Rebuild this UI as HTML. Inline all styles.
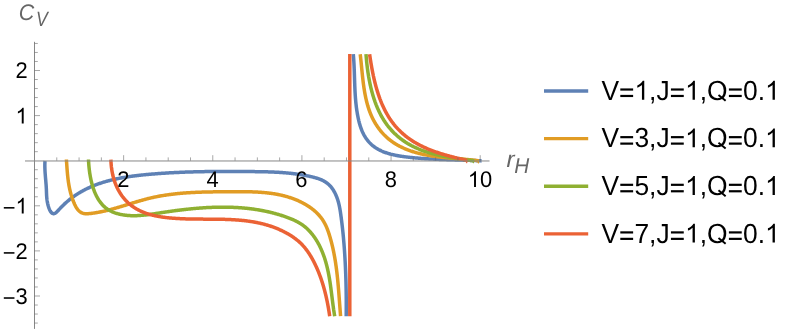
<!DOCTYPE html><html><head><meta charset="utf-8"><style>html,body{margin:0;padding:0;background:#fff}svg{display:block;will-change:transform}text{font-family:"Liberation Sans",sans-serif;font-kerning:none;text-rendering:geometricPrecision}</style></head><body>
<svg width="793" height="331" viewBox="0 0 793 331">
<g fill="none" stroke-width="3.50" stroke-linejoin="round" stroke-linecap="butt">
<path stroke="#5e81b5" d="M45.00 161.00 44.95 161.66 44.92 162.32 44.89 163.00 44.87 163.67 44.85 164.35 44.85 165.04 44.84 165.73 44.85 166.42 44.86 167.12 44.88 167.82 44.90 168.53 44.93 169.24 44.96 169.95 44.99 170.66 45.03 171.37 45.08 172.09 45.12 172.81 45.17 173.53 45.22 174.24 45.28 174.96 45.34 175.68 45.39 176.41 45.45 177.13 45.51 177.84 45.58 178.56 45.64 179.28 45.70 179.99 45.76 180.71 45.82 181.42 45.88 182.13 45.94 182.84 46.00 183.54 46.05 184.24 46.10 184.93 46.16 185.63 46.20 186.31 46.25 187.00 46.29 187.68 46.32 188.35 46.36 189.02 46.39 189.68 46.41 190.34 46.43 190.99 46.45 191.65 46.48 192.30 46.50 192.94 46.52 193.60 46.55 194.25 46.58 194.90 46.61 195.56 46.65 196.22 46.70 196.89 46.75 197.57 46.82 198.26 46.90 198.95 46.98 199.65 47.08 200.37 47.19 201.10 47.32 201.84 47.47 202.60 47.62 203.37 47.80 204.16 48.00 204.96 48.21 205.77 48.45 206.58 48.70 207.39 48.97 208.17 49.26 208.94 49.57 209.67 49.90 210.37 50.25 211.02 50.62 211.62 51.01 212.15 51.42 212.62 51.85 213.01 52.30 213.32 52.77 213.54 53.25 213.66 53.73 213.68 54.22 213.60 54.70 213.44 55.19 213.19 55.68 212.87 56.17 212.49 56.66 212.06 57.15 211.58 57.65 211.07 58.15 210.53 58.64 209.98 59.15 209.42 59.65 208.87 60.16 208.32 60.67 207.78 61.19 207.24 61.70 206.71 62.22 206.18 62.74 205.66 63.27 205.15 63.80 204.64 64.33 204.14 64.86 203.65 65.39 203.16 65.93 202.67 66.47 202.19 67.02 201.72 67.56 201.25 68.11 200.79 68.66 200.33 69.21 199.88 69.77 199.44 70.33 199.00 70.89 198.56 71.45 198.13 72.02 197.71 72.58 197.29 73.15 196.88 73.73 196.47 74.30 196.06 74.88 195.67 75.46 195.27 76.04 194.88 76.62 194.50 77.21 194.12 77.80 193.75 78.39 193.38 78.98 193.02 79.57 192.66 80.17 192.30 80.77 191.95 81.37 191.61 81.97 191.27 82.58 190.93 83.18 190.60 83.79 190.28 84.40 189.95 85.02 189.64 85.63 189.32 86.25 189.01 86.87 188.71 87.49 188.41 88.11 188.11 88.73 187.82 89.36 187.54 89.98 187.25 90.61 186.97 91.24 186.70 91.88 186.43 92.51 186.16 93.15 185.90 93.78 185.64 94.42 185.38 95.06 185.13 95.71 184.89 96.35 184.64 97.00 184.40 97.64 184.17 98.29 183.93 98.94 183.71 99.59 183.48 100.24 183.26 100.90 183.04 101.55 182.83 102.21 182.62 102.87 182.41 103.53 182.20 104.19 182.00 104.85 181.81 105.52 181.61 106.18 181.42 106.85 181.23 107.51 181.05 108.18 180.87 108.85 180.69 109.52 180.51 110.19 180.34 110.87 180.17 111.54 180.01 112.22 179.84 112.89 179.68 113.57 179.52 114.25 179.37 114.93 179.22 115.61 179.07 116.29 178.92 116.97 178.77 117.65 178.63 118.33 178.49 119.02 178.36 119.70 178.22 120.39 178.09 121.08 177.96 121.76 177.84 122.45 177.71 123.14 177.59 123.83 177.47 124.52 177.35 125.21 177.24 125.90 177.12 126.60 177.01 127.29 176.90 127.98 176.80 128.68 176.69 129.37 176.59 130.07 176.49 130.76 176.39 131.46 176.29 132.16 176.19 132.85 176.10 133.55 176.01 134.25 175.92 134.95 175.83 135.65 175.74 136.34 175.66 137.04 175.57 137.74 175.49 138.44 175.41 139.14 175.33 139.84 175.25 140.54 175.18 141.25 175.10 141.95 175.03 142.65 174.95 143.35 174.88 144.05 174.81 144.75 174.74 145.45 174.67 146.15 174.61 146.86 174.54 147.56 174.48 148.26 174.41 148.96 174.35 149.66 174.29 150.36 174.23 151.06 174.17 151.76 174.11 152.47 174.05 153.17 173.99 153.87 173.93 154.57 173.88 155.27 173.82 155.97 173.77 156.67 173.71 157.37 173.66 158.07 173.61 158.77 173.56 159.47 173.51 160.17 173.46 160.87 173.41 161.57 173.36 162.27 173.31 162.97 173.26 163.67 173.22 164.37 173.17 165.07 173.13 165.77 173.08 166.47 173.04 167.17 173.00 167.87 172.95 168.57 172.91 169.27 172.87 169.97 172.83 170.66 172.79 171.36 172.76 172.06 172.72 172.76 172.68 173.46 172.64 174.16 172.61 174.86 172.57 175.56 172.54 176.26 172.51 176.95 172.47 177.65 172.44 178.35 172.41 179.05 172.38 179.75 172.35 180.45 172.32 181.14 172.29 181.84 172.26 182.54 172.23 183.24 172.20 183.94 172.18 184.64 172.15 185.33 172.12 186.03 172.10 186.73 172.07 187.43 172.05 188.13 172.03 188.82 172.00 189.52 171.98 190.22 171.96 190.92 171.94 191.61 171.92 192.31 171.90 193.01 171.88 193.71 171.86 194.41 171.84 195.10 171.82 195.80 171.81 196.50 171.79 197.20 171.77 197.89 171.76 198.59 171.74 199.29 171.73 199.99 171.71 200.68 171.70 201.38 171.68 202.08 171.67 202.78 171.66 203.47 171.64 204.17 171.63 204.87 171.62 205.57 171.61 206.26 171.60 206.96 171.59 207.66 171.58 208.36 171.57 209.05 171.56 209.75 171.55 210.45 171.54 211.15 171.54 211.84 171.53 212.54 171.52 213.24 171.52 213.94 171.51 214.63 171.50 215.33 171.50 216.03 171.49 216.73 171.49 217.42 171.48 218.12 171.48 218.82 171.48 219.52 171.47 220.21 171.47 220.91 171.47 221.61 171.47 222.31 171.46 223.01 171.46 223.70 171.46 224.40 171.46 225.10 171.46 225.80 171.46 226.49 171.46 227.19 171.46 227.89 171.46 228.59 171.46 229.29 171.46 229.98 171.46 230.68 171.46 231.38 171.46 232.08 171.46 232.78 171.47 233.47 171.47 234.17 171.47 234.87 171.47 235.57 171.48 236.27 171.48 236.97 171.48 237.66 171.49 238.36 171.49 239.06 171.49 239.76 171.50 240.46 171.50 241.16 171.51 241.86 171.51 242.55 171.52 243.25 171.52 243.95 171.53 244.65 171.53 245.35 171.54 246.05 171.54 246.75 171.55 247.45 171.56 248.15 171.56 248.85 171.57 249.54 171.57 250.24 171.58 250.94 171.59 251.64 171.59 252.34 171.60 253.04 171.61 253.74 171.61 254.44 171.62 255.14 171.63 255.84 171.64 256.54 171.65 257.24 171.66 257.94 171.66 258.64 171.67 259.34 171.69 260.04 171.70 260.74 171.71 261.44 171.72 262.14 171.73 262.84 171.75 263.54 171.76 264.24 171.78 264.94 171.80 265.64 171.81 266.34 171.83 267.04 171.85 267.74 171.87 268.44 171.89 269.14 171.91 269.84 171.94 270.54 171.96 271.24 171.99 271.94 172.02 272.63 172.04 273.33 172.07 274.03 172.10 274.73 172.14 275.43 172.17 276.13 172.21 276.83 172.24 277.53 172.28 278.23 172.32 278.92 172.36 279.62 172.40 280.32 172.45 281.02 172.49 281.72 172.54 282.41 172.59 283.11 172.64 283.81 172.70 284.51 172.75 285.20 172.81 285.90 172.87 286.60 172.93 287.29 172.99 287.99 173.06 288.69 173.12 289.38 173.19 290.08 173.27 290.78 173.34 291.47 173.42 292.17 173.49 292.86 173.57 293.56 173.66 294.25 173.74 294.95 173.83 295.64 173.92 296.34 174.01 297.03 174.11 297.72 174.21 298.42 174.31 299.11 174.41 299.80 174.52 300.50 174.62 301.19 174.73 301.88 174.85 302.57 174.97 303.26 175.09 303.96 175.21 304.65 175.33 305.34 175.46 306.03 175.59 306.72 175.73 307.41 175.87 308.10 176.01 308.79 176.15 309.48 176.30 310.17 176.45 310.86 176.60 311.54 176.76 312.23 176.92 312.92 177.09 313.60 177.26 314.28 177.44 314.96 177.62 315.63 177.81 316.30 178.01 316.97 178.22 317.64 178.43 318.30 178.65 318.95 178.89 319.60 179.13 320.24 179.38 320.88 179.64 321.51 179.92 322.13 180.20 322.75 180.50 323.36 180.81 323.96 181.13 324.55 181.47 325.14 181.82 325.71 182.18 326.28 182.56 326.84 182.96 327.38 183.37 327.92 183.80 328.44 184.24 328.95 184.71 329.45 185.19 329.94 185.69 330.42 186.20 330.88 186.74 331.34 187.29 331.78 187.86 332.20 188.44 332.62 189.03 333.02 189.64 333.41 190.25 333.79 190.88 334.15 191.51 334.50 192.15 334.84 192.80 335.17 193.45 335.49 194.11 335.79 194.77 336.08 195.43 336.36 196.09 336.63 196.75 336.88 197.41 337.13 198.08 337.36 198.75 337.59 199.41 337.80 200.08 338.01 200.75 338.20 201.43 338.39 202.10 338.57 202.77 338.74 203.45 338.91 204.12 339.07 204.80 339.22 205.48 339.36 206.16 339.50 206.83 339.63 207.51 339.76 208.20 339.88 208.88 340.00 209.56 340.12 210.24 340.23 210.93 340.33 211.61 340.44 212.30 340.54 212.98 340.64 213.67 340.74 214.35 340.83 215.04 340.93 215.73 341.02 216.42 341.12 217.10 341.21 217.79 341.30 218.48 341.39 219.17 341.48 219.86 341.57 220.55 341.66 221.24 341.74 221.93 341.83 222.63 341.91 223.32 341.99 224.01 342.08 224.70 342.16 225.39 342.24 226.09 342.32 226.78 342.39 227.47 342.47 228.17 342.55 228.86 342.62 229.56 342.70 230.25 342.77 230.95 342.84 231.64 342.92 232.34 342.99 233.03 343.06 233.73 343.13 234.42 343.19 235.12 343.26 235.82 343.33 236.51 343.39 237.21 343.46 237.91 343.52 238.61 343.58 239.30 343.64 240.00 343.70 240.70 343.76 241.40 343.82 242.10 343.88 242.80 343.94 243.49 344.00 244.19 344.05 244.89 344.11 245.59 344.16 246.29 344.21 246.99 344.27 247.69 344.32 248.39 344.37 249.09 344.42 249.79 344.47 250.49 344.52 251.19 344.57 251.89 344.61 252.59 344.66 253.29 344.70 253.99 344.75 254.69 344.79 255.39 344.84 256.09 344.88 256.79 344.92 257.49 344.96 258.19 345.00 258.89 345.04 259.59 345.08 260.29 345.12 260.99 345.16 261.69 345.19 262.39 345.23 263.09 345.26 263.79 345.30 264.49 345.33 265.19 345.37 265.89 345.40 266.59 345.43 267.29 345.46 267.99 345.49 268.69 345.52 269.39 345.55 270.08 345.58 270.78 345.61 271.48 345.64 272.18 345.66 272.88 345.69 273.58 345.71 274.28 345.74 274.97 345.76 275.67 345.79 276.37 345.81 277.07 345.83 277.77 345.86 278.46 345.88 279.16 345.90 279.86 345.92 280.55 345.94 281.25 345.96 281.95 345.98 282.64 345.99 283.34 346.01 284.04 346.03 284.73 346.04 285.43 346.06 286.13 346.07 286.82 346.09 287.52 346.10 288.22 346.12 288.91 346.13 289.61 346.14 290.31 346.15 291.00 346.16 291.70 346.17 292.40 346.18 293.09 346.19 293.79 346.20 294.49 346.21 295.19 346.22 295.88 346.22 296.58 346.23 297.28 346.24 297.98 346.24 298.67 346.25 299.37 346.25 300.07 346.25 300.77 346.26 301.47 346.26 302.17 346.26 302.86 346.26 303.56 346.26 304.26 346.26 304.96 346.26 305.66 346.26 306.36 346.26 307.06 346.26 307.76 346.26 308.47 346.26 309.17 346.25 309.87 346.25 310.57 346.24 311.27 346.24 311.98 346.23 312.68 346.23 313.38 346.22 314.09 346.22 314.79 346.21 315.49 346.20 316.20"/>
<path stroke="#5e81b5" d="M353.30 54.20 353.36 54.89 353.42 55.58 353.48 56.28 353.53 56.97 353.59 57.66 353.64 58.35 353.69 59.05 353.73 59.74 353.78 60.43 353.82 61.13 353.86 61.82 353.90 62.51 353.94 63.21 353.98 63.90 354.01 64.60 354.05 65.29 354.08 65.99 354.11 66.68 354.14 67.38 354.17 68.07 354.20 68.77 354.23 69.46 354.25 70.16 354.28 70.85 354.30 71.55 354.33 72.25 354.35 72.94 354.37 73.64 354.39 74.34 354.42 75.03 354.44 75.73 354.46 76.43 354.48 77.12 354.50 77.82 354.53 78.52 354.55 79.22 354.57 79.91 354.59 80.61 354.62 81.31 354.64 82.01 354.66 82.71 354.69 83.40 354.71 84.10 354.74 84.80 354.76 85.50 354.79 86.20 354.82 86.89 354.85 87.59 354.88 88.29 354.91 88.99 354.94 89.69 354.97 90.39 355.01 91.09 355.05 91.78 355.08 92.48 355.12 93.18 355.17 93.88 355.21 94.58 355.25 95.28 355.30 95.98 355.35 96.68 355.40 97.38 355.45 98.07 355.51 98.77 355.57 99.47 355.63 100.17 355.69 100.87 355.75 101.57 355.82 102.27 355.89 102.97 355.96 103.66 356.04 104.36 356.12 105.06 356.20 105.76 356.28 106.46 356.37 107.16 356.46 107.86 356.55 108.55 356.65 109.25 356.75 109.95 356.85 110.65 356.96 111.35 357.07 112.05 357.19 112.74 357.31 113.44 357.43 114.14 357.56 114.84 357.69 115.53 357.82 116.23 357.96 116.93 358.10 117.63 358.25 118.32 358.40 119.02 358.56 119.72 358.72 120.41 358.88 121.10 359.06 121.80 359.23 122.49 359.42 123.17 359.61 123.86 359.80 124.54 360.00 125.22 360.21 125.90 360.43 126.57 360.65 127.24 360.88 127.91 361.12 128.57 361.37 129.23 361.62 129.88 361.88 130.53 362.15 131.18 362.43 131.81 362.72 132.45 363.02 133.07 363.33 133.69 363.64 134.31 363.97 134.92 364.30 135.52 364.65 136.11 365.00 136.70 365.36 137.28 365.74 137.85 366.12 138.41 366.51 138.97 366.91 139.52 367.32 140.06 367.74 140.59 368.17 141.11 368.60 141.62 369.05 142.13 369.50 142.62 369.97 143.10 370.44 143.58 370.92 144.04 371.41 144.50 371.90 144.94 372.41 145.38 372.93 145.80 373.45 146.21 373.98 146.61 374.52 147.00 375.07 147.39 375.62 147.76 376.18 148.12 376.75 148.47 377.32 148.82 377.91 149.15 378.50 149.48 379.09 149.79 379.69 150.10 380.30 150.40 380.92 150.69 381.54 150.98 382.16 151.25 382.79 151.52 383.43 151.78 384.07 152.03 384.72 152.27 385.37 152.51 386.03 152.74 386.69 152.96 387.35 153.17 388.02 153.38 388.70 153.59 389.38 153.78 390.06 153.97 390.74 154.16 391.43 154.33 392.12 154.50 392.81 154.67 393.51 154.83 394.21 154.99 394.91 155.14 395.62 155.28 396.32 155.42 397.03 155.56 397.74 155.69 398.46 155.82 399.17 155.94 399.89 156.06 400.60 156.17 401.32 156.28 402.04 156.39 402.76 156.49 403.48 156.59 404.19 156.69 404.91 156.78 405.63 156.88 406.35 156.96 407.07 157.05 407.79 157.13 408.51 157.22 409.23 157.29 409.94 157.37 410.66 157.45 411.37 157.52 412.09 157.59 412.80 157.66 413.51 157.73 414.22 157.80 414.93 157.87 415.63 157.93 416.34 157.99 417.04 158.05 417.75 158.11 418.45 158.17 419.15 158.23 419.85 158.28 420.56 158.34 421.25 158.39 421.95 158.44 422.65 158.49 423.35 158.54 424.05 158.59 424.74 158.63 425.44 158.68 426.13 158.72 426.82 158.77 427.52 158.81 428.21 158.85 428.90 158.89 429.59 158.93 430.28 158.97 430.97 159.00 431.66 159.04 432.35 159.07 433.04 159.11 433.73 159.14 434.42 159.17 435.10 159.20 435.79 159.24 436.48 159.27 437.16 159.29 437.85 159.32 438.54 159.35 439.22 159.38 439.91 159.41 440.59 159.43 441.28 159.46 441.96 159.48 442.65 159.51 443.33 159.53 444.02 159.55 444.70 159.58 445.39 159.60 446.07 159.62 446.76 159.64 447.44 159.67 448.13 159.69 448.81 159.71 449.50 159.73 450.19 159.75 450.87 159.77 451.56 159.79 452.24 159.81 452.93 159.83 453.62 159.85 454.30 159.87 454.99 159.89 455.68 159.91 456.37 159.93 457.05 159.95 457.74 159.97 458.43 159.99 459.12 160.01 459.81 160.03 460.50 160.05 461.20 160.08 461.89 160.10 462.58 160.12 463.27 160.14 463.97 160.16 464.66 160.18 465.36 160.21 466.05 160.23 466.75 160.25 467.45 160.28 468.15 160.30 468.85 160.33 469.55 160.35 470.25 160.38 470.95 160.41 471.65 160.43 472.35 160.46 473.06 160.49 473.77 160.52 474.47 160.55 475.18 160.58 475.89 160.61 476.60 160.65 477.31 160.68 478.02 160.71 478.73 160.75 479.45 160.79 480.16 160.82 480.88 160.86 481.60 160.90"/>
<path stroke="#e19c24" d="M66.40 159.50 66.45 160.20 66.50 160.89 66.55 161.59 66.60 162.28 66.64 162.98 66.69 163.67 66.74 164.37 66.79 165.06 66.83 165.76 66.88 166.45 66.93 167.15 66.98 167.84 67.03 168.54 67.09 169.23 67.14 169.92 67.19 170.62 67.25 171.31 67.31 172.00 67.37 172.70 67.43 173.39 67.49 174.08 67.56 174.78 67.63 175.47 67.70 176.16 67.77 176.85 67.85 177.54 67.93 178.24 68.01 178.93 68.10 179.62 68.19 180.31 68.28 181.00 68.38 181.69 68.48 182.38 68.59 183.08 68.70 183.77 68.81 184.46 68.93 185.15 69.05 185.84 69.18 186.53 69.31 187.22 69.45 187.91 69.59 188.60 69.74 189.29 69.90 189.98 70.06 190.67 70.22 191.36 70.39 192.05 70.57 192.74 70.76 193.43 70.95 194.12 71.14 194.81 71.35 195.50 71.56 196.19 71.78 196.88 72.00 197.57 72.24 198.26 72.48 198.95 72.72 199.63 72.98 200.32 73.24 201.01 73.52 201.70 73.80 202.39 74.08 203.07 74.38 203.75 74.69 204.43 75.01 205.09 75.34 205.74 75.68 206.39 76.04 207.01 76.40 207.62 76.78 208.21 77.18 208.78 77.58 209.33 78.01 209.86 78.44 210.35 78.90 210.82 79.36 211.26 79.85 211.67 80.35 212.05 80.87 212.38 81.41 212.69 81.97 212.95 82.54 213.17 83.14 213.35 83.75 213.49 84.38 213.60 85.02 213.67 85.67 213.72 86.34 213.74 87.01 213.74 87.69 213.71 88.38 213.67 89.07 213.62 89.76 213.55 90.46 213.48 91.16 213.40 91.85 213.31 92.54 213.22 93.24 213.13 93.93 213.03 94.62 212.93 95.31 212.82 96.01 212.71 96.70 212.59 97.38 212.47 98.07 212.35 98.76 212.22 99.45 212.09 100.14 211.96 100.82 211.82 101.51 211.68 102.20 211.53 102.88 211.39 103.56 211.24 104.25 211.08 104.93 210.93 105.61 210.77 106.30 210.60 106.98 210.44 107.66 210.27 108.34 210.10 109.02 209.93 109.70 209.75 110.38 209.57 111.06 209.39 111.74 209.21 112.42 209.03 113.10 208.84 113.78 208.65 114.46 208.46 115.13 208.27 115.81 208.08 116.49 207.88 117.16 207.69 117.84 207.49 118.52 207.29 119.19 207.09 119.87 206.89 120.54 206.69 121.22 206.48 121.89 206.28 122.57 206.08 123.24 205.87 123.92 205.66 124.59 205.46 125.27 205.25 125.94 205.04 126.62 204.84 127.29 204.63 127.96 204.42 128.64 204.21 129.31 204.01 129.99 203.80 130.66 203.59 131.33 203.38 132.01 203.18 132.68 202.97 133.36 202.77 134.03 202.56 134.70 202.36 135.38 202.15 136.05 201.95 136.73 201.75 137.40 201.55 138.08 201.35 138.75 201.16 139.43 200.96 140.10 200.76 140.78 200.57 141.45 200.38 142.13 200.19 142.80 200.00 143.48 199.82 144.15 199.63 144.83 199.45 145.51 199.27 146.18 199.09 146.86 198.92 147.54 198.74 148.22 198.57 148.89 198.41 149.57 198.24 150.25 198.08 150.93 197.92 151.61 197.76 152.29 197.61 152.97 197.46 153.65 197.31 154.33 197.16 155.01 197.02 155.69 196.88 156.37 196.74 157.06 196.60 157.74 196.47 158.42 196.34 159.11 196.21 159.79 196.09 160.47 195.96 161.16 195.84 161.84 195.72 162.53 195.61 163.21 195.50 163.90 195.38 164.58 195.28 165.27 195.17 165.95 195.06 166.64 194.96 167.33 194.86 168.01 194.76 168.70 194.67 169.39 194.57 170.08 194.48 170.77 194.39 171.45 194.31 172.14 194.22 172.83 194.14 173.52 194.06 174.21 193.98 174.90 193.90 175.59 193.82 176.28 193.75 176.97 193.68 177.66 193.61 178.36 193.54 179.05 193.47 179.74 193.41 180.43 193.35 181.13 193.28 181.82 193.23 182.51 193.17 183.20 193.11 183.90 193.06 184.59 193.00 185.29 192.95 185.98 192.90 186.68 192.85 187.37 192.81 188.07 192.76 188.76 192.72 189.46 192.67 190.15 192.63 190.85 192.59 191.55 192.55 192.24 192.51 192.94 192.48 193.64 192.44 194.33 192.41 195.03 192.38 195.73 192.35 196.43 192.32 197.13 192.29 197.83 192.26 198.52 192.23 199.22 192.21 199.92 192.18 200.62 192.16 201.32 192.13 202.02 192.11 202.72 192.09 203.42 192.07 204.12 192.05 204.82 192.03 205.52 192.02 206.23 192.00 206.93 191.98 207.63 191.97 208.33 191.95 209.03 191.94 209.74 191.93 210.44 191.91 211.14 191.90 211.84 191.89 212.55 191.88 213.25 191.87 213.95 191.86 214.66 191.85 215.36 191.84 216.07 191.83 216.77 191.83 217.47 191.82 218.18 191.81 218.88 191.81 219.59 191.80 220.29 191.79 221.00 191.79 221.71 191.78 222.41 191.78 223.12 191.77 223.82 191.77 224.53 191.76 225.24 191.76 225.94 191.75 226.65 191.75 227.36 191.75 228.06 191.74 228.77 191.74 229.48 191.73 230.18 191.73 230.89 191.72 231.60 191.72 232.31 191.71 233.02 191.71 233.72 191.71 234.43 191.70 235.14 191.70 235.85 191.70 236.56 191.69 237.27 191.69 237.97 191.69 238.68 191.69 239.39 191.69 240.10 191.69 240.81 191.69 241.51 191.69 242.22 191.69 242.93 191.70 243.64 191.70 244.34 191.71 245.05 191.72 245.76 191.72 246.46 191.73 247.17 191.75 247.88 191.76 248.58 191.77 249.29 191.79 249.99 191.80 250.70 191.82 251.40 191.84 252.11 191.86 252.81 191.89 253.51 191.91 254.22 191.94 254.92 191.97 255.62 192.00 256.32 192.03 257.02 192.07 257.72 192.11 258.42 192.15 259.12 192.19 259.82 192.24 260.52 192.28 261.22 192.33 261.91 192.39 262.61 192.44 263.31 192.50 264.00 192.56 264.70 192.62 265.39 192.69 266.08 192.76 266.77 192.83 267.47 192.91 268.16 192.99 268.85 193.07 269.54 193.15 270.22 193.24 270.91 193.33 271.60 193.43 272.28 193.53 272.97 193.63 273.65 193.73 274.34 193.84 275.02 193.96 275.70 194.07 276.38 194.19 277.06 194.32 277.74 194.45 278.41 194.58 279.09 194.72 279.76 194.86 280.44 195.00 281.11 195.15 281.78 195.30 282.45 195.46 283.12 195.62 283.79 195.79 284.46 195.96 285.12 196.14 285.79 196.32 286.45 196.50 287.11 196.69 287.77 196.89 288.43 197.09 289.09 197.30 289.75 197.51 290.40 197.72 291.06 197.94 291.71 198.17 292.36 198.40 293.01 198.63 293.66 198.87 294.31 199.12 294.95 199.37 295.60 199.63 296.24 199.90 296.88 200.16 297.52 200.44 298.16 200.72 298.80 201.01 299.43 201.30 300.06 201.60 300.70 201.90 301.32 202.21 301.95 202.53 302.58 202.85 303.20 203.18 303.82 203.52 304.44 203.86 305.05 204.21 305.66 204.56 306.27 204.92 306.87 205.29 307.47 205.66 308.07 206.04 308.66 206.43 309.24 206.82 309.83 207.22 310.40 207.62 310.97 208.03 311.54 208.45 312.10 208.88 312.66 209.31 313.21 209.74 313.75 210.19 314.29 210.64 314.82 211.09 315.34 211.56 315.86 212.03 316.37 212.51 316.87 212.99 317.36 213.48 317.85 213.98 318.33 214.48 318.80 214.99 319.26 215.51 319.72 216.04 320.16 216.57 320.60 217.11 321.03 217.65 321.45 218.20 321.86 218.76 322.26 219.33 322.64 219.90 323.02 220.49 323.39 221.07 323.75 221.67 324.10 222.27 324.44 222.88 324.77 223.49 325.09 224.11 325.41 224.73 325.71 225.36 326.01 226.00 326.30 226.64 326.58 227.28 326.85 227.93 327.12 228.58 327.38 229.24 327.63 229.90 327.88 230.56 328.12 231.23 328.36 231.90 328.59 232.57 328.81 233.24 329.03 233.91 329.25 234.59 329.46 235.27 329.67 235.95 329.87 236.63 330.07 237.31 330.27 237.99 330.46 238.67 330.65 239.35 330.84 240.03 331.03 240.71 331.21 241.40 331.39 242.08 331.56 242.76 331.74 243.44 331.91 244.13 332.07 244.81 332.24 245.49 332.40 246.17 332.56 246.86 332.72 247.54 332.87 248.23 333.02 248.91 333.17 249.59 333.32 250.28 333.46 250.96 333.60 251.65 333.74 252.33 333.88 253.02 334.01 253.71 334.14 254.39 334.27 255.08 334.40 255.76 334.53 256.45 334.65 257.14 334.77 257.82 334.89 258.51 335.00 259.20 335.12 259.89 335.23 260.57 335.34 261.26 335.45 261.95 335.56 262.64 335.66 263.33 335.76 264.02 335.86 264.71 335.96 265.39 336.06 266.08 336.16 266.77 336.25 267.46 336.34 268.15 336.43 268.84 336.52 269.53 336.61 270.22 336.69 270.91 336.78 271.61 336.86 272.30 336.94 272.99 337.02 273.68 337.10 274.37 337.18 275.06 337.26 275.76 337.33 276.45 337.40 277.14 337.48 277.83 337.55 278.53 337.62 279.22 337.69 279.91 337.76 280.61 337.82 281.30 337.89 281.99 337.95 282.69 338.02 283.38 338.08 284.07 338.14 284.77 338.21 285.46 338.27 286.16 338.33 286.85 338.38 287.55 338.44 288.24 338.50 288.94 338.56 289.64 338.62 290.33 338.67 291.03 338.73 291.72 338.78 292.42 338.84 293.12 338.89 293.81 338.94 294.51 339.00 295.21 339.05 295.91 339.10 296.60 339.16 297.30 339.21 298.00 339.26 298.70 339.31 299.39 339.36 300.09 339.42 300.79 339.47 301.49 339.52 302.19 339.57 302.89 339.62 303.59 339.68 304.29 339.73 304.99 339.78 305.69 339.83 306.39 339.88 307.09 339.94 307.79 339.99 308.49 340.04 309.19 340.10 309.89 340.15 310.59 340.20 311.29 340.26 311.99 340.32 312.69 340.37 313.39 340.43 314.09 340.48 314.80 340.54 315.50 340.60 316.20"/>
<path stroke="#e19c24" d="M360.20 54.20 360.28 54.85 360.36 55.50 360.44 56.16 360.52 56.82 360.59 57.48 360.67 58.15 360.74 58.81 360.81 59.48 360.89 60.15 360.96 60.83 361.03 61.50 361.10 62.18 361.17 62.86 361.23 63.54 361.30 64.23 361.37 64.92 361.44 65.60 361.51 66.29 361.58 66.99 361.64 67.68 361.71 68.37 361.78 69.07 361.85 69.77 361.92 70.47 361.99 71.17 362.06 71.87 362.13 72.57 362.20 73.28 362.27 73.98 362.34 74.69 362.42 75.39 362.49 76.10 362.57 76.81 362.65 77.52 362.73 78.23 362.81 78.94 362.89 79.65 362.97 80.36 363.06 81.07 363.14 81.78 363.23 82.49 363.32 83.20 363.42 83.92 363.51 84.63 363.61 85.34 363.71 86.05 363.81 86.76 363.91 87.47 364.02 88.18 364.13 88.89 364.24 89.60 364.35 90.31 364.47 91.02 364.59 91.73 364.71 92.43 364.84 93.14 364.97 93.85 365.10 94.55 365.24 95.25 365.38 95.95 365.52 96.65 365.67 97.35 365.82 98.05 365.97 98.75 366.13 99.44 366.29 100.14 366.45 100.83 366.62 101.52 366.80 102.21 366.98 102.90 367.16 103.58 367.35 104.26 367.54 104.95 367.73 105.62 367.94 106.30 368.14 106.98 368.35 107.65 368.57 108.32 368.79 108.98 369.01 109.65 369.24 110.31 369.48 110.97 369.72 111.63 369.97 112.28 370.22 112.93 370.48 113.58 370.74 114.23 371.01 114.87 371.29 115.51 371.57 116.15 371.86 116.78 372.15 117.41 372.45 118.03 372.76 118.66 373.07 119.28 373.39 119.89 373.71 120.50 374.04 121.11 374.38 121.71 374.72 122.31 375.07 122.91 375.42 123.50 375.78 124.09 376.15 124.68 376.52 125.25 376.90 125.83 377.28 126.40 377.67 126.97 378.07 127.53 378.47 128.09 378.88 128.64 379.29 129.19 379.71 129.73 380.13 130.27 380.56 130.80 381.00 131.33 381.44 131.85 381.88 132.37 382.34 132.88 382.79 133.39 383.26 133.89 383.72 134.39 384.20 134.88 384.68 135.37 385.16 135.85 385.65 136.32 386.15 136.79 386.65 137.25 387.15 137.71 387.66 138.16 388.18 138.60 388.70 139.04 389.23 139.47 389.76 139.90 390.30 140.32 390.84 140.73 391.39 141.14 391.94 141.54 392.50 141.93 393.06 142.32 393.63 142.70 394.20 143.07 394.77 143.44 395.35 143.80 395.94 144.16 396.53 144.51 397.12 144.86 397.72 145.19 398.32 145.53 398.92 145.86 399.53 146.18 400.15 146.49 400.76 146.80 401.39 147.11 402.01 147.41 402.64 147.70 403.27 147.99 403.90 148.27 404.54 148.55 405.18 148.82 405.83 149.09 406.47 149.35 407.12 149.61 407.78 149.86 408.43 150.11 409.09 150.35 409.75 150.59 410.42 150.83 411.08 151.05 411.75 151.28 412.42 151.50 413.09 151.71 413.77 151.92 414.45 152.13 415.12 152.33 415.81 152.52 416.49 152.72 417.17 152.90 417.86 153.09 418.55 153.27 419.24 153.44 419.93 153.62 420.62 153.78 421.31 153.95 422.00 154.11 422.70 154.26 423.40 154.42 424.09 154.56 424.79 154.71 425.49 154.85 426.19 154.99 426.89 155.12 427.59 155.25 428.29 155.38 428.99 155.50 429.69 155.63 430.39 155.74 431.10 155.86 431.80 155.97 432.50 156.08 433.20 156.18 433.90 156.29 434.60 156.39 435.31 156.48 436.01 156.58 436.71 156.67 437.41 156.76 438.12 156.85 438.82 156.93 439.52 157.02 440.22 157.10 440.92 157.18 441.62 157.25 442.33 157.33 443.03 157.40 443.73 157.47 444.43 157.54 445.13 157.61 445.83 157.68 446.53 157.75 447.23 157.81 447.93 157.87 448.63 157.94 449.33 158.00 450.03 158.06 450.73 158.12 451.43 158.17 452.13 158.23 452.83 158.29 453.53 158.35 454.23 158.40 454.92 158.46 455.62 158.51 456.32 158.57 457.01 158.62 457.71 158.68 458.40 158.73 459.10 158.79 459.79 158.85 460.49 158.90 461.18 158.96 461.88 159.01 462.57 159.07 463.26 159.13 463.95 159.19 464.64 159.24 465.33 159.30 466.02 159.37 466.71 159.43 467.40 159.49 468.09 159.55 468.78 159.62 469.46 159.69 470.15 159.75 470.83 159.82 471.52 159.89 472.20 159.97 472.89 160.04 473.57 160.12 474.25 160.19 474.93 160.27 475.61 160.36 476.29 160.44 476.97 160.53 477.65 160.62 478.32 160.71 479.00 160.80"/>
<path stroke="#8fb032" d="M88.50 159.50 88.53 160.12 88.55 160.74 88.59 161.38 88.62 162.02 88.66 162.66 88.70 163.31 88.75 163.97 88.80 164.63 88.85 165.30 88.91 165.97 88.97 166.65 89.04 167.33 89.11 168.02 89.18 168.71 89.26 169.41 89.34 170.10 89.43 170.80 89.52 171.51 89.62 172.22 89.72 172.92 89.83 173.64 89.94 174.35 90.06 175.06 90.18 175.78 90.31 176.50 90.44 177.21 90.58 177.93 90.72 178.65 90.87 179.37 91.03 180.09 91.19 180.80 91.36 181.52 91.53 182.24 91.71 182.95 91.90 183.66 92.09 184.37 92.29 185.08 92.50 185.79 92.71 186.49 92.93 187.19 93.15 187.89 93.38 188.58 93.62 189.27 93.87 189.96 94.12 190.64 94.38 191.31 94.65 191.99 94.93 192.65 95.21 193.31 95.50 193.97 95.80 194.62 96.11 195.26 96.42 195.90 96.74 196.53 97.07 197.15 97.41 197.77 97.76 198.38 98.12 198.98 98.48 199.57 98.85 200.15 99.23 200.73 99.62 201.29 100.02 201.85 100.43 202.40 100.84 202.94 101.27 203.46 101.71 203.98 102.15 204.49 102.60 204.99 103.07 205.47 103.54 205.94 104.02 206.41 104.51 206.86 105.01 207.30 105.53 207.72 106.05 208.13 106.58 208.54 107.12 208.92 107.67 209.30 108.23 209.66 108.80 210.01 109.38 210.35 109.97 210.67 110.57 210.99 111.17 211.29 111.78 211.58 112.40 211.86 113.02 212.12 113.65 212.38 114.29 212.62 114.94 212.86 115.58 213.08 116.24 213.30 116.90 213.50 117.57 213.69 118.24 213.88 118.91 214.05 119.59 214.21 120.27 214.37 120.95 214.51 121.64 214.65 122.33 214.77 123.03 214.89 123.72 215.00 124.42 215.10 125.12 215.19 125.82 215.28 126.52 215.35 127.22 215.42 127.92 215.48 128.62 215.53 129.33 215.58 130.03 215.62 130.73 215.65 131.43 215.67 132.13 215.69 132.83 215.70 133.52 215.70 134.22 215.70 134.92 215.69 135.61 215.68 136.31 215.66 137.00 215.64 137.70 215.61 138.39 215.57 139.08 215.53 139.78 215.49 140.47 215.44 141.16 215.38 141.85 215.33 142.54 215.26 143.23 215.20 143.92 215.13 144.61 215.06 145.30 214.98 145.99 214.90 146.68 214.82 147.37 214.73 148.06 214.64 148.75 214.55 149.44 214.46 150.13 214.36 150.82 214.26 151.51 214.17 152.20 214.06 152.89 213.96 153.57 213.86 154.26 213.75 154.95 213.65 155.64 213.54 156.33 213.44 157.02 213.33 157.71 213.22 158.40 213.11 159.09 213.01 159.78 212.90 160.48 212.79 161.17 212.69 161.86 212.58 162.55 212.48 163.24 212.37 163.94 212.27 164.63 212.16 165.32 212.06 166.02 211.96 166.71 211.86 167.41 211.76 168.10 211.66 168.79 211.56 169.49 211.46 170.19 211.36 170.88 211.26 171.58 211.17 172.27 211.07 172.97 210.98 173.67 210.88 174.36 210.79 175.06 210.70 175.76 210.61 176.45 210.51 177.15 210.42 177.85 210.34 178.55 210.25 179.25 210.16 179.95 210.07 180.64 209.99 181.34 209.90 182.04 209.82 182.74 209.74 183.44 209.66 184.14 209.58 184.84 209.50 185.54 209.42 186.24 209.34 186.94 209.26 187.64 209.19 188.34 209.12 189.04 209.04 189.74 208.97 190.44 208.90 191.14 208.83 191.84 208.76 192.54 208.69 193.24 208.63 193.95 208.56 194.65 208.50 195.35 208.44 196.05 208.38 196.75 208.32 197.45 208.26 198.15 208.20 198.85 208.15 199.56 208.09 200.26 208.04 200.96 207.99 201.66 207.94 202.36 207.89 203.06 207.84 203.77 207.79 204.47 207.75 205.17 207.71 205.87 207.67 206.57 207.62 207.27 207.59 207.98 207.55 208.68 207.51 209.38 207.48 210.08 207.45 210.78 207.42 211.48 207.39 212.18 207.36 212.88 207.33 213.59 207.31 214.29 207.29 214.99 207.26 215.69 207.25 216.39 207.23 217.09 207.21 217.79 207.20 218.49 207.18 219.19 207.17 219.89 207.17 220.59 207.16 221.29 207.15 221.99 207.15 222.69 207.15 223.39 207.15 224.09 207.15 224.79 207.15 225.49 207.16 226.19 207.17 226.88 207.18 227.58 207.19 228.28 207.20 228.98 207.22 229.68 207.23 230.37 207.25 231.07 207.27 231.77 207.30 232.47 207.32 233.16 207.35 233.86 207.38 234.56 207.41 235.25 207.45 235.95 207.48 236.64 207.52 237.34 207.56 238.03 207.60 238.73 207.65 239.42 207.69 240.12 207.74 240.81 207.79 241.51 207.85 242.20 207.90 242.89 207.96 243.59 208.02 244.28 208.08 244.97 208.15 245.66 208.22 246.35 208.29 247.04 208.36 247.74 208.43 248.43 208.51 249.12 208.59 249.81 208.67 250.49 208.75 251.18 208.84 251.87 208.93 252.56 209.02 253.25 209.11 253.94 209.21 254.62 209.31 255.31 209.41 256.00 209.51 256.68 209.62 257.37 209.73 258.05 209.84 258.74 209.95 259.42 210.07 260.11 210.19 260.79 210.31 261.47 210.44 262.16 210.56 262.84 210.69 263.52 210.83 264.20 210.96 264.88 211.10 265.56 211.24 266.24 211.39 266.92 211.53 267.60 211.68 268.28 211.83 268.95 211.99 269.63 212.15 270.31 212.31 270.98 212.47 271.66 212.64 272.33 212.81 273.01 212.98 273.68 213.16 274.36 213.33 275.03 213.52 275.70 213.70 276.37 213.89 277.04 214.08 277.72 214.27 278.39 214.47 279.05 214.67 279.72 214.87 280.39 215.07 281.06 215.28 281.73 215.50 282.39 215.71 283.06 215.93 283.72 216.15 284.39 216.37 285.05 216.60 285.72 216.83 286.38 217.07 287.04 217.31 287.70 217.55 288.36 217.79 289.01 218.04 289.67 218.30 290.32 218.56 290.97 218.82 291.61 219.09 292.26 219.37 292.90 219.65 293.54 219.94 294.17 220.23 294.80 220.53 295.43 220.83 296.05 221.14 296.67 221.46 297.29 221.78 297.90 222.11 298.50 222.45 299.10 222.80 299.70 223.15 300.29 223.51 300.87 223.88 301.45 224.26 302.02 224.64 302.59 225.04 303.15 225.44 303.71 225.85 304.25 226.27 304.79 226.70 305.33 227.14 305.85 227.59 306.37 228.04 306.89 228.50 307.39 228.98 307.89 229.46 308.39 229.95 308.87 230.44 309.35 230.94 309.83 231.45 310.30 231.97 310.76 232.50 311.21 233.03 311.66 233.56 312.10 234.11 312.54 234.66 312.97 235.22 313.39 235.78 313.81 236.35 314.22 236.92 314.62 237.50 315.02 238.08 315.41 238.67 315.80 239.27 316.18 239.86 316.55 240.47 316.92 241.07 317.28 241.69 317.64 242.30 317.99 242.92 318.33 243.54 318.67 244.17 319.00 244.80 319.33 245.43 319.65 246.07 319.96 246.70 320.27 247.35 320.57 247.99 320.87 248.63 321.16 249.28 321.45 249.93 321.73 250.58 322.01 251.23 322.28 251.89 322.54 252.54 322.80 253.20 323.05 253.85 323.30 254.51 323.55 255.17 323.78 255.83 324.02 256.49 324.25 257.16 324.47 257.82 324.69 258.49 324.90 259.15 325.11 259.82 325.32 260.49 325.52 261.16 325.72 261.83 325.91 262.50 326.10 263.17 326.28 263.84 326.46 264.52 326.64 265.19 326.81 265.87 326.98 266.55 327.14 267.22 327.31 267.90 327.46 268.58 327.62 269.26 327.77 269.94 327.92 270.62 328.06 271.30 328.21 271.99 328.35 272.67 328.48 273.36 328.62 274.04 328.75 274.73 328.87 275.41 329.00 276.10 329.12 276.78 329.24 277.47 329.36 278.16 329.48 278.85 329.59 279.54 329.70 280.23 329.81 280.92 329.92 281.61 330.03 282.30 330.13 282.99 330.23 283.68 330.33 284.37 330.43 285.06 330.53 285.76 330.63 286.45 330.72 287.14 330.82 287.83 330.91 288.53 331.00 289.22 331.10 289.91 331.19 290.61 331.28 291.30 331.36 292.00 331.45 292.69 331.54 293.38 331.63 294.08 331.72 294.77 331.80 295.47 331.89 296.16 331.98 296.86 332.06 297.55 332.15 298.24 332.24 298.94 332.32 299.63 332.41 300.33 332.50 301.02 332.59 301.71 332.68 302.41 332.77 303.10 332.86 303.79 332.95 304.48 333.04 305.18 333.13 305.87 333.23 306.56 333.32 307.25 333.42 307.94 333.52 308.63 333.61 309.32 333.72 310.01 333.82 310.70 333.92 311.39 334.03 312.08 334.13 312.77 334.24 313.46 334.35 314.14 334.47 314.83 334.58 315.51 334.70 316.20"/>
<path stroke="#8fb032" d="M366.00 54.20 366.05 54.86 366.10 55.52 366.16 56.19 366.21 56.85 366.27 57.52 366.33 58.19 366.39 58.86 366.45 59.54 366.51 60.21 366.58 60.89 366.64 61.57 366.71 62.25 366.79 62.94 366.86 63.62 366.93 64.31 367.01 64.99 367.09 65.68 367.17 66.37 367.26 67.06 367.34 67.76 367.43 68.45 367.52 69.14 367.62 69.84 367.71 70.54 367.81 71.23 367.91 71.93 368.01 72.63 368.12 73.33 368.23 74.03 368.34 74.73 368.45 75.43 368.57 76.13 368.68 76.83 368.81 77.53 368.93 78.24 369.06 78.94 369.19 79.64 369.32 80.34 369.45 81.05 369.59 81.75 369.73 82.45 369.88 83.15 370.02 83.85 370.17 84.55 370.33 85.25 370.48 85.95 370.64 86.65 370.81 87.35 370.97 88.05 371.14 88.75 371.31 89.44 371.49 90.14 371.67 90.84 371.85 91.53 372.04 92.22 372.23 92.91 372.42 93.60 372.62 94.29 372.82 94.98 373.02 95.67 373.23 96.35 373.44 97.04 373.65 97.72 373.87 98.40 374.10 99.08 374.32 99.75 374.55 100.43 374.79 101.10 375.02 101.77 375.27 102.44 375.51 103.11 375.76 103.78 376.02 104.44 376.27 105.10 376.54 105.76 376.80 106.41 377.07 107.07 377.35 107.72 377.63 108.36 377.91 109.01 378.20 109.65 378.49 110.29 378.79 110.93 379.09 111.57 379.39 112.20 379.70 112.82 380.02 113.45 380.34 114.07 380.66 114.69 380.99 115.31 381.32 115.92 381.66 116.53 382.00 117.13 382.35 117.74 382.70 118.33 383.06 118.93 383.42 119.52 383.79 120.11 384.16 120.69 384.54 121.27 384.92 121.84 385.31 122.42 385.70 122.98 386.10 123.55 386.50 124.10 386.91 124.66 387.32 125.21 387.73 125.76 388.16 126.30 388.58 126.84 389.02 127.37 389.45 127.90 389.89 128.42 390.34 128.94 390.79 129.46 391.25 129.97 391.71 130.48 392.17 130.98 392.64 131.48 393.12 131.97 393.59 132.46 394.08 132.94 394.56 133.42 395.06 133.89 395.55 134.36 396.05 134.83 396.56 135.29 397.07 135.74 397.58 136.19 398.10 136.64 398.63 137.08 399.15 137.51 399.68 137.94 400.22 138.37 400.76 138.79 401.30 139.20 401.85 139.61 402.40 140.02 402.96 140.42 403.52 140.81 404.08 141.20 404.65 141.58 405.22 141.96 405.80 142.34 406.37 142.70 406.96 143.06 407.54 143.42 408.14 143.77 408.73 144.12 409.33 144.46 409.93 144.80 410.53 145.13 411.14 145.45 411.75 145.78 412.37 146.09 412.99 146.40 413.61 146.71 414.23 147.01 414.86 147.31 415.49 147.60 416.12 147.89 416.76 148.17 417.40 148.45 418.04 148.73 418.68 149.00 419.33 149.26 419.98 149.52 420.63 149.78 421.28 150.03 421.94 150.28 422.60 150.53 423.26 150.77 423.92 151.00 424.59 151.24 425.25 151.46 425.92 151.69 426.60 151.91 427.27 152.13 427.94 152.34 428.62 152.55 429.30 152.76 429.98 152.96 430.66 153.16 431.34 153.35 432.03 153.55 432.71 153.74 433.40 153.92 434.09 154.10 434.78 154.28 435.47 154.46 436.16 154.63 436.86 154.80 437.55 154.97 438.25 155.13 438.94 155.29 439.64 155.45 440.34 155.61 441.04 155.76 441.74 155.91 442.44 156.06 443.14 156.20 443.84 156.34 444.54 156.48 445.24 156.62 445.94 156.75 446.64 156.88 447.34 157.01 448.05 157.14 448.75 157.27 449.45 157.39 450.15 157.51 450.85 157.63 451.56 157.75 452.26 157.86 452.96 157.97 453.66 158.09 454.36 158.20 455.06 158.30 455.76 158.41 456.46 158.51 457.15 158.62 457.85 158.72 458.55 158.82 459.24 158.91 459.94 159.01 460.63 159.11 461.32 159.20 462.01 159.29 462.70 159.38 463.39 159.47 464.08 159.56 464.77 159.65 465.45 159.74 466.13 159.82 466.82 159.91 467.50 159.99 468.18 160.08 468.85 160.16 469.53 160.24 470.20 160.32 470.87 160.40 471.54 160.48 472.21 160.56 472.87 160.64 473.54 160.72 474.20 160.80"/>
<path stroke="#eb6235" d="M110.90 159.60 110.92 160.26 110.95 160.92 110.98 161.59 111.02 162.26 111.06 162.93 111.10 163.60 111.16 164.28 111.22 164.96 111.28 165.63 111.35 166.32 111.42 167.00 111.51 167.68 111.59 168.37 111.69 169.06 111.79 169.74 111.90 170.43 112.01 171.12 112.13 171.81 112.26 172.50 112.40 173.19 112.54 173.89 112.69 174.58 112.84 175.27 113.01 175.96 113.18 176.65 113.36 177.34 113.55 178.02 113.74 178.71 113.94 179.40 114.16 180.08 114.38 180.76 114.60 181.45 114.84 182.13 115.09 182.80 115.34 183.48 115.60 184.15 115.87 184.82 116.15 185.49 116.44 186.16 116.74 186.82 117.05 187.48 117.37 188.14 117.70 188.79 118.03 189.44 118.37 190.08 118.73 190.72 119.09 191.36 119.45 191.98 119.83 192.61 120.21 193.22 120.60 193.84 121.00 194.44 121.41 195.04 121.82 195.63 122.24 196.21 122.67 196.79 123.11 197.35 123.55 197.91 124.00 198.46 124.45 199.00 124.91 199.54 125.38 200.06 125.85 200.57 126.33 201.07 126.81 201.57 127.31 202.05 127.80 202.52 128.30 202.99 128.81 203.44 129.32 203.89 129.84 204.33 130.37 204.76 130.90 205.18 131.43 205.59 131.97 205.99 132.51 206.38 133.06 206.77 133.62 207.15 134.18 207.52 134.74 207.88 135.31 208.23 135.88 208.57 136.46 208.91 137.04 209.24 137.63 209.56 138.22 209.88 138.81 210.18 139.41 210.48 140.02 210.77 140.62 211.06 141.23 211.34 141.85 211.61 142.47 211.87 143.09 212.13 143.72 212.38 144.35 212.62 144.98 212.86 145.62 213.09 146.26 213.31 146.90 213.53 147.54 213.75 148.19 213.95 148.85 214.15 149.50 214.35 150.16 214.54 150.82 214.72 151.48 214.90 152.15 215.07 152.82 215.24 153.49 215.40 154.16 215.56 154.84 215.71 155.52 215.85 156.20 216.00 156.88 216.13 157.57 216.27 158.25 216.39 158.94 216.52 159.63 216.64 160.32 216.75 161.02 216.86 161.71 216.97 162.41 217.07 163.11 217.17 163.81 217.27 164.51 217.36 165.21 217.45 165.92 217.53 166.62 217.62 167.32 217.69 168.03 217.77 168.74 217.84 169.45 217.91 170.15 217.98 170.86 218.04 171.57 218.10 172.28 218.16 172.99 218.21 173.70 218.27 174.42 218.32 175.13 218.37 175.84 218.41 176.55 218.46 177.26 218.50 177.97 218.54 178.68 218.58 179.39 218.62 180.11 218.65 180.82 218.69 181.53 218.72 182.24 218.75 182.95 218.78 183.66 218.80 184.38 218.83 185.09 218.85 185.80 218.88 186.51 218.90 187.22 218.92 187.93 218.94 188.64 218.95 189.35 218.97 190.07 218.98 190.78 219.00 191.49 219.01 192.20 219.02 192.91 219.03 193.62 219.05 194.33 219.05 195.04 219.06 195.75 219.07 196.46 219.08 197.17 219.09 197.88 219.09 198.59 219.10 199.30 219.10 200.01 219.11 200.72 219.11 201.43 219.11 202.14 219.12 202.84 219.12 203.55 219.13 204.26 219.13 204.97 219.13 205.68 219.13 206.38 219.14 207.09 219.14 207.80 219.14 208.51 219.15 209.21 219.15 209.92 219.15 210.62 219.16 211.33 219.16 212.03 219.16 212.74 219.17 213.44 219.18 214.15 219.18 214.85 219.19 215.56 219.19 216.26 219.20 216.96 219.21 217.67 219.22 218.37 219.23 219.07 219.24 219.77 219.25 220.47 219.27 221.18 219.28 221.88 219.29 222.58 219.31 223.28 219.33 223.97 219.35 224.67 219.37 225.37 219.39 226.07 219.41 226.77 219.43 227.47 219.46 228.16 219.48 228.86 219.51 229.55 219.54 230.25 219.57 230.94 219.60 231.64 219.64 232.33 219.68 233.03 219.71 233.72 219.75 234.41 219.80 235.10 219.84 235.80 219.89 236.49 219.93 237.18 219.98 237.87 220.04 238.56 220.09 239.24 220.15 239.93 220.21 240.62 220.27 241.31 220.33 241.99 220.40 242.68 220.47 243.36 220.54 244.05 220.61 244.73 220.69 245.42 220.77 246.10 220.85 246.78 220.94 247.46 221.02 248.14 221.11 248.82 221.21 249.50 221.30 250.18 221.40 250.86 221.50 251.54 221.61 252.21 221.72 252.89 221.83 253.56 221.95 254.24 222.07 254.91 222.19 255.59 222.31 256.26 222.44 256.93 222.57 257.60 222.71 258.27 222.85 258.94 222.99 259.61 223.14 260.28 223.29 260.94 223.44 261.61 223.60 262.28 223.76 262.94 223.93 263.60 224.10 264.27 224.27 264.93 224.45 265.59 224.63 266.25 224.82 266.91 225.01 267.57 225.21 268.23 225.41 268.88 225.61 269.54 225.82 270.20 226.03 270.85 226.25 271.50 226.47 272.16 226.70 272.81 226.93 273.46 227.16 274.11 227.40 274.76 227.65 275.41 227.90 276.05 228.15 276.70 228.41 277.35 228.68 277.99 228.95 278.63 229.22 279.28 229.50 279.92 229.79 280.56 230.08 281.20 230.38 281.83 230.68 282.47 230.98 283.11 231.30 283.74 231.61 284.38 231.94 285.01 232.26 285.64 232.60 286.27 232.94 286.90 233.28 287.53 233.64 288.15 233.99 288.77 234.35 289.39 234.72 290.01 235.10 290.62 235.48 291.23 235.86 291.83 236.25 292.43 236.65 293.03 237.05 293.62 237.46 294.20 237.88 294.78 238.30 295.36 238.73 295.93 239.16 296.49 239.60 297.05 240.04 297.60 240.49 298.14 240.95 298.68 241.41 299.21 241.88 299.73 242.35 300.25 242.84 300.76 243.32 301.26 243.82 301.75 244.31 302.23 244.82 302.71 245.33 303.18 245.84 303.64 246.36 304.10 246.89 304.55 247.42 304.99 247.96 305.43 248.50 305.86 249.04 306.28 249.59 306.70 250.15 307.11 250.71 307.51 251.27 307.91 251.84 308.31 252.41 308.70 252.99 309.08 253.57 309.46 254.15 309.83 254.74 310.20 255.33 310.56 255.92 310.92 256.52 311.27 257.12 311.62 257.72 311.97 258.32 312.31 258.93 312.64 259.54 312.97 260.16 313.30 260.77 313.63 261.39 313.95 262.01 314.26 262.63 314.58 263.26 314.88 263.88 315.19 264.51 315.49 265.14 315.79 265.78 316.09 266.41 316.38 267.05 316.66 267.69 316.95 268.33 317.23 268.97 317.51 269.61 317.78 270.26 318.05 270.90 318.32 271.55 318.58 272.20 318.84 272.85 319.10 273.51 319.35 274.16 319.61 274.82 319.85 275.48 320.10 276.14 320.34 276.80 320.58 277.46 320.81 278.12 321.04 278.79 321.27 279.45 321.50 280.12 321.72 280.79 321.94 281.46 322.16 282.13 322.37 282.80 322.58 283.47 322.79 284.14 322.99 284.82 323.20 285.49 323.40 286.17 323.59 286.84 323.79 287.52 323.98 288.20 324.16 288.88 324.35 289.56 324.53 290.24 324.71 290.92 324.89 291.60 325.06 292.28 325.24 292.96 325.41 293.65 325.57 294.33 325.74 295.01 325.90 295.70 326.06 296.38 326.21 297.06 326.37 297.75 326.52 298.43 326.67 299.12 326.82 299.80 326.96 300.49 327.11 301.18 327.25 301.86 327.38 302.55 327.52 303.23 327.65 303.92 327.78 304.60 327.91 305.29 328.04 305.97 328.16 306.66 328.29 307.34 328.41 308.03 328.53 308.71 328.64 309.39 328.76 310.08 328.87 310.76 328.98 311.44 329.09 312.12 329.20 312.80 329.30 313.48 329.40 314.16 329.50 314.84 329.60 315.52 329.70 316.20"/>
<path stroke="#eb6235" d="M369.60 54.20 369.70 54.86 369.79 55.52 369.89 56.19 369.99 56.86 370.09 57.52 370.19 58.20 370.29 58.87 370.40 59.54 370.50 60.22 370.61 60.89 370.72 61.57 370.83 62.25 370.94 62.93 371.06 63.61 371.17 64.29 371.29 64.98 371.41 65.66 371.53 66.35 371.65 67.04 371.77 67.72 371.90 68.41 372.03 69.10 372.16 69.79 372.29 70.48 372.42 71.17 372.56 71.87 372.69 72.56 372.83 73.25 372.98 73.94 373.12 74.64 373.27 75.33 373.41 76.02 373.57 76.72 373.72 77.41 373.87 78.10 374.03 78.80 374.19 79.49 374.36 80.19 374.52 80.88 374.69 81.57 374.86 82.26 375.04 82.96 375.21 83.65 375.39 84.34 375.57 85.03 375.76 85.72 375.94 86.41 376.13 87.10 376.33 87.78 376.52 88.47 376.72 89.16 376.93 89.84 377.13 90.52 377.34 91.21 377.55 91.89 377.77 92.57 377.98 93.24 378.20 93.92 378.43 94.60 378.66 95.27 378.89 95.94 379.12 96.62 379.36 97.29 379.60 97.95 379.85 98.62 380.09 99.28 380.35 99.94 380.60 100.61 380.86 101.26 381.12 101.92 381.39 102.57 381.66 103.23 381.94 103.87 382.21 104.52 382.50 105.17 382.78 105.81 383.07 106.45 383.37 107.09 383.67 107.72 383.97 108.35 384.27 108.98 384.58 109.61 384.90 110.23 385.22 110.85 385.54 111.47 385.87 112.09 386.20 112.70 386.54 113.31 386.88 113.91 387.22 114.51 387.57 115.11 387.92 115.71 388.28 116.30 388.65 116.89 389.01 117.47 389.39 118.05 389.76 118.63 390.15 119.21 390.53 119.78 390.92 120.34 391.32 120.91 391.72 121.46 392.13 122.02 392.54 122.57 392.96 123.11 393.38 123.66 393.80 124.20 394.23 124.73 394.67 125.26 395.11 125.78 395.55 126.31 396.00 126.82 396.45 127.34 396.91 127.85 397.38 128.35 397.84 128.85 398.32 129.35 398.79 129.84 399.27 130.33 399.76 130.81 400.25 131.29 400.74 131.76 401.24 132.23 401.74 132.70 402.25 133.16 402.76 133.62 403.28 134.07 403.80 134.52 404.32 134.96 404.85 135.40 405.38 135.84 405.91 136.27 406.45 136.69 407.00 137.11 407.55 137.53 408.10 137.94 408.65 138.35 409.21 138.75 409.78 139.15 410.34 139.54 410.91 139.93 411.49 140.31 412.07 140.69 412.65 141.06 413.23 141.43 413.82 141.80 414.42 142.16 415.01 142.51 415.61 142.86 416.21 143.21 416.82 143.55 417.43 143.89 418.04 144.23 418.65 144.56 419.27 144.88 419.89 145.20 420.51 145.52 421.14 145.84 421.77 146.15 422.40 146.45 423.03 146.75 423.67 147.05 424.31 147.35 424.95 147.64 425.59 147.92 426.24 148.21 426.88 148.49 427.53 148.76 428.18 149.04 428.84 149.31 429.49 149.57 430.15 149.83 430.81 150.09 431.47 150.35 432.13 150.60 432.79 150.85 433.46 151.10 434.13 151.34 434.79 151.58 435.46 151.82 436.13 152.05 436.80 152.28 437.48 152.51 438.15 152.74 438.83 152.96 439.50 153.18 440.18 153.40 440.86 153.61 441.53 153.82 442.21 154.03 442.89 154.24 443.57 154.44 444.25 154.65 444.93 154.85 445.61 155.04 446.29 155.24 446.98 155.43 447.66 155.62 448.34 155.81 449.02 156.00 449.70 156.18 450.38 156.36 451.07 156.54 451.75 156.72 452.43 156.90 453.11 157.07 453.79 157.25 454.47 157.42 455.15 157.59 455.83 157.75 456.50 157.92 457.18 158.09 457.86 158.25 458.53 158.41 459.21 158.57 459.88 158.73 460.55 158.89 461.22 159.04 461.89 159.20 462.56 159.35 463.23 159.50 463.89 159.66 464.56 159.81 465.22 159.96 465.88 160.10 466.54 160.25 467.20 160.40"/>
<path stroke="#eb6235" d="M349.8 54.1V316.2"/>
</g>
<path fill="#e19c24" d="M476.80 160.6L479.50 160.6L478.85 163.40L478.05 163.40Z"/>
<path fill="#8fb032" d="M471.80 160.6L474.50 160.6L473.85 163.20L473.05 163.20Z"/>
<path fill="#eb6235" d="M465.10 160.6L467.80 160.6L467.15 163.20L466.35 163.20Z"/>
<path fill="none" stroke="#868686" stroke-width="1" d="M25.00 160.98H489.50M34.50 41.80V328.90"/>
<path fill="none" stroke="#6b6b6b" stroke-width="0.6" d="M56.78 160.70v-3.30M79.07 160.70v-3.30M101.36 160.70v-3.30M123.64 160.70v-5.50M145.93 160.70v-3.30M168.21 160.70v-3.30M190.50 160.70v-3.30M212.78 160.70v-5.50M235.06 160.70v-3.30M257.35 160.70v-3.30M279.63 160.70v-3.30M301.92 160.70v-5.50M324.20 160.70v-3.30M346.49 160.70v-3.30M368.77 160.70v-3.30M391.06 160.70v-5.50M413.35 160.70v-3.30M435.63 160.70v-3.30M457.92 160.70v-3.30M480.20 160.70v-5.50M34.50 323.06h3.30M34.50 314.04h3.30M34.50 305.02h3.30M34.50 296.00h5.50M34.50 286.98h3.30M34.50 277.96h3.30M34.50 268.94h3.30M34.50 259.92h3.30M34.50 250.90h5.50M34.50 241.88h3.30M34.50 232.86h3.30M34.50 223.84h3.30M34.50 214.82h3.30M34.50 205.80h5.50M34.50 196.78h3.30M34.50 187.76h3.30M34.50 178.74h3.30M34.50 169.72h3.30M34.50 151.68h3.30M34.50 142.66h3.30M34.50 133.64h3.30M34.50 124.62h3.30M34.50 115.60h5.50M34.50 106.58h3.30M34.50 97.56h3.30M34.50 88.54h3.30M34.50 79.52h3.30M34.50 70.50h5.50M34.50 61.48h3.30M34.50 52.46h3.30M34.50 43.44h3.30"/>
<g transform="translate(117.35 187.00)" fill="#000"><text transform="scale(1 1.0300)" font-size="21.90" x="0.00">2</text></g>
<g transform="translate(206.39 187.00)" fill="#000"><text transform="scale(1 1.0300)" font-size="21.90" x="0.00">4</text></g>
<g transform="translate(295.13 187.00)" fill="#000"><text transform="scale(1 1.0300)" font-size="21.90" x="0.00">6</text></g>
<g transform="translate(384.67 187.00)" fill="#000"><text transform="scale(1 1.0300)" font-size="21.90" x="0.00">8</text></g>
<g transform="translate(467.82 187.00)" fill="#000"><text transform="scale(1 1.0300)" font-size="21.90" x="12.18">0</text><path d="M763 0H583V1147Q518 1085 412.5 1023Q307 961 223 930V1104Q374 1175 487 1276Q600 1377 647 1472H763Z" transform="translate(0.00 0) scale(0.01069 -0.01069)"/></g>
<g transform="translate(15.52 78.30)" fill="#000"><text transform="scale(1 1.0300)" font-size="21.90" x="0.00">2</text></g>
<g transform="translate(15.52 123.40)" fill="#000"><path d="M763 0H583V1147Q518 1085 412.5 1023Q307 961 223 930V1104Q374 1175 487 1276Q600 1377 647 1472H763Z" transform="translate(0.00 0) scale(0.01069 -0.01069)"/></g>
<g transform="translate(2.73 213.60)" fill="#000"><rect x="1.08" y="-6.56" width="10.64" height="1.56"/><path d="M763 0H583V1147Q518 1085 412.5 1023Q307 961 223 930V1104Q374 1175 487 1276Q600 1377 647 1472H763Z" transform="translate(12.79 0) scale(0.01069 -0.01069)"/></g>
<g transform="translate(2.73 258.70)" fill="#000"><text transform="scale(1 1.0300)" font-size="21.90" x="12.79">2</text><rect x="1.08" y="-6.56" width="10.64" height="1.56"/></g>
<g transform="translate(2.73 303.80)" fill="#000"><text transform="scale(1 1.0300)" font-size="21.90" x="12.79">3</text><rect x="1.08" y="-6.56" width="10.64" height="1.56"/></g>
<text transform="translate(18.80 20.00) scale(1.0000 1.0450)" font-size="21.50" font-style="italic" fill="#666">C</text>
<text transform="translate(36.00 26.00) scale(0.8700 1.0300)" font-size="20.30" font-style="italic" fill="#666">V</text>
<text transform="translate(506.50 166.50) scale(1.0500 1.0000)" font-size="23.00" font-style="italic" fill="#666">r</text>
<text transform="translate(514.30 172.60) scale(1.0500 1.0800)" font-size="19.80" font-style="italic" fill="#666">H</text>
<path stroke="#5e81b5" stroke-width="3.4" d="M544 91.00H588.2"/>
<g transform="translate(601.40 99.70)" fill="#000"><text transform="scale(1 1.0450)" font-size="26.40" x="0.00 47.71 55.04 98.34 105.68 141.63 156.31">V,J,O0.</text><rect x="18.90" y="-11.28" width="12.83" height="2.19"/><rect x="18.90" y="-4.83" width="12.83" height="2.19"/><path d="M763 0H583V1147Q518 1085 412.5 1023Q307 961 223 930V1104Q374 1175 487 1276Q600 1377 647 1472H763Z" transform="translate(33.03 0) scale(0.01289 -0.01289)"/><rect x="69.53" y="-11.28" width="12.83" height="2.19"/><rect x="69.53" y="-4.83" width="12.83" height="2.19"/><path d="M763 0H583V1147Q518 1085 412.5 1023Q307 961 223 930V1104Q374 1175 487 1276Q600 1377 647 1472H763Z" transform="translate(83.66 0) scale(0.01289 -0.01289)"/><path d="M837 307L932 423L1488 -32L1393 -148Z" transform="translate(105.68 0) scale(0.01289 -0.01289)"/><rect x="127.50" y="-11.28" width="12.83" height="2.19"/><rect x="127.50" y="-4.83" width="12.83" height="2.19"/><path d="M763 0H583V1147Q518 1085 412.5 1023Q307 961 223 930V1104Q374 1175 487 1276Q600 1377 647 1472H763Z" transform="translate(163.65 0) scale(0.01289 -0.01289)"/></g>
<path stroke="#e19c24" stroke-width="3.4" d="M544 138.65H588.2"/>
<g transform="translate(601.40 147.35)" fill="#000"><text transform="scale(1 1.0450)" font-size="26.40" x="0.00 33.03 47.71 55.04 98.34 105.68 141.63 156.31">V3,J,O0.</text><rect x="18.90" y="-11.28" width="12.83" height="2.19"/><rect x="18.90" y="-4.83" width="12.83" height="2.19"/><rect x="69.53" y="-11.28" width="12.83" height="2.19"/><rect x="69.53" y="-4.83" width="12.83" height="2.19"/><path d="M763 0H583V1147Q518 1085 412.5 1023Q307 961 223 930V1104Q374 1175 487 1276Q600 1377 647 1472H763Z" transform="translate(83.66 0) scale(0.01289 -0.01289)"/><path d="M837 307L932 423L1488 -32L1393 -148Z" transform="translate(105.68 0) scale(0.01289 -0.01289)"/><rect x="127.50" y="-11.28" width="12.83" height="2.19"/><rect x="127.50" y="-4.83" width="12.83" height="2.19"/><path d="M763 0H583V1147Q518 1085 412.5 1023Q307 961 223 930V1104Q374 1175 487 1276Q600 1377 647 1472H763Z" transform="translate(163.65 0) scale(0.01289 -0.01289)"/></g>
<path stroke="#8fb032" stroke-width="3.4" d="M544 186.30H588.2"/>
<g transform="translate(601.40 195.00)" fill="#000"><text transform="scale(1 1.0450)" font-size="26.40" x="0.00 33.03 47.71 55.04 98.34 105.68 141.63 156.31">V5,J,O0.</text><rect x="18.90" y="-11.28" width="12.83" height="2.19"/><rect x="18.90" y="-4.83" width="12.83" height="2.19"/><rect x="69.53" y="-11.28" width="12.83" height="2.19"/><rect x="69.53" y="-4.83" width="12.83" height="2.19"/><path d="M763 0H583V1147Q518 1085 412.5 1023Q307 961 223 930V1104Q374 1175 487 1276Q600 1377 647 1472H763Z" transform="translate(83.66 0) scale(0.01289 -0.01289)"/><path d="M837 307L932 423L1488 -32L1393 -148Z" transform="translate(105.68 0) scale(0.01289 -0.01289)"/><rect x="127.50" y="-11.28" width="12.83" height="2.19"/><rect x="127.50" y="-4.83" width="12.83" height="2.19"/><path d="M763 0H583V1147Q518 1085 412.5 1023Q307 961 223 930V1104Q374 1175 487 1276Q600 1377 647 1472H763Z" transform="translate(163.65 0) scale(0.01289 -0.01289)"/></g>
<path stroke="#eb6235" stroke-width="3.4" d="M544 233.90H588.2"/>
<g transform="translate(601.40 242.60)" fill="#000"><text transform="scale(1 1.0450)" font-size="26.40" x="0.00 33.03 47.71 55.04 98.34 105.68 141.63 156.31">V7,J,O0.</text><rect x="18.90" y="-11.28" width="12.83" height="2.19"/><rect x="18.90" y="-4.83" width="12.83" height="2.19"/><rect x="69.53" y="-11.28" width="12.83" height="2.19"/><rect x="69.53" y="-4.83" width="12.83" height="2.19"/><path d="M763 0H583V1147Q518 1085 412.5 1023Q307 961 223 930V1104Q374 1175 487 1276Q600 1377 647 1472H763Z" transform="translate(83.66 0) scale(0.01289 -0.01289)"/><path d="M837 307L932 423L1488 -32L1393 -148Z" transform="translate(105.68 0) scale(0.01289 -0.01289)"/><rect x="127.50" y="-11.28" width="12.83" height="2.19"/><rect x="127.50" y="-4.83" width="12.83" height="2.19"/><path d="M763 0H583V1147Q518 1085 412.5 1023Q307 961 223 930V1104Q374 1175 487 1276Q600 1377 647 1472H763Z" transform="translate(163.65 0) scale(0.01289 -0.01289)"/></g>
</svg></body></html>
